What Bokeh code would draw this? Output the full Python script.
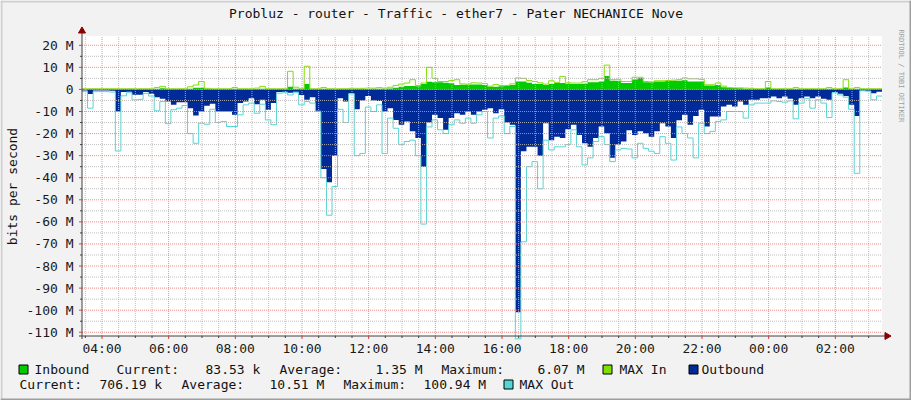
import math
from bokeh.plotting import figure
from bokeh.models import Range1d, Label, BoxAnnotation
from bokeh.core.properties import value
from bokeh.embed import file_html
from bokeh.resources import INLINE

# ---------------- data (Mbit/s, 10-minute samples starting 03:24) ----------------
start_hour = 3.4
step_hours = 1.0 / 6.0

inbound = [
    0.1, 0.1, 0.1, 0.1, 0.1, 0.1, 0.1, 0.1, 0.1, 0.1,
    0.1, 0.1, 0.1, 0.3, 0.5, 0.1, 0.1, 0.1, 0.1, 0.3,
    0.8, 0.8, 0.3, 0.1, 0.1, 0.1, 0.1, 0.3, 0.1, 0.1,
    0.1, 0.2, 0.3, 0.1, 0.1, 0.1, 0.1, 1.2, 0.3, 0.2,
    2.5, 0.1, 0.1, 0.3, 0.1, 0.1, 0.1, 0.1, 0.2, 0.2,
    0.2, 0.2, 0.3, 0.3, 0.3, 0.4, 0.8, 1.2, 1.5, 1.5,
    1.4, 2.4, 3.5, 3.3, 3.3, 3.0, 2.8, 2.0, 2.1, 2.1,
    2.2, 2.2, 2.0, 1.2, 1.2, 1.4, 1.5, 2.0, 3.6, 3.6,
    3.0, 2.5, 2.4, 2.0, 2.4, 2.9, 2.9, 2.6, 2.4, 2.4,
    2.6, 3.3, 3.3, 3.6, 6.07, 3.9, 3.9, 2.9, 2.9, 4.5,
    5.2, 3.3, 3.3, 3.6, 3.6, 3.9, 3.9, 3.9, 4.2, 3.6,
    3.6, 3.6, 1.8, 1.8, 2.0, 1.0, 0.6, 0.6, 0.5, 0.3,
    0.3, 0.2, 0.2, 0.9, 0.2, 0.2, 0.2, 0.2, 0.3, 0.2,
    0.2, 0.2, 0.2, 0.2, 0.3, 0.2, 0.2, 0.9, 0.2, 0.3,
    0.1, 0.1, 0.1, 0.1,
]

max_in = [
    0.3, 0.3, 0.3, 0.3, 0.3, 0.3, 0.3, 0.3, 0.3, 0.3,
    0.3, 0.3, 0.3, 0.9, 1.4, 0.3, 0.3, 0.3, 0.3, 1.2,
    2.0, 3.6, 0.5, 0.3, 0.3, 0.3, 0.3, 0.9, 0.3, 0.3,
    0.3, 0.6, 1.4, 0.3, 0.3, 0.3, 0.3, 8.2, 1.0, 0.5,
    10.5, 0.3, 0.3, 0.9, 0.3, 0.3, 0.3, 0.3, 0.5, 0.5,
    0.5, 0.6, 0.6, 0.8, 0.6, 1.0, 1.8, 2.4, 2.9, 4.4,
    1.8, 2.9, 10.0, 5.0, 3.6, 3.6, 4.0, 4.4, 2.5, 2.4,
    3.0, 2.9, 2.6, 1.5, 2.2, 1.8, 1.8, 2.5, 5.2, 5.0,
    4.0, 3.6, 3.0, 2.4, 3.9, 3.2, 5.9, 3.0, 2.9, 2.9,
    3.5, 4.4, 4.4, 5.0, 11.0, 4.4, 4.6, 3.6, 3.6, 5.5,
    5.5, 3.6, 3.4, 3.9, 3.9, 4.0, 4.2, 4.4, 5.2, 4.8,
    4.8, 4.6, 2.1, 2.1, 2.9, 1.5, 0.8, 0.7, 0.7, 0.6,
    0.5, 0.3, 0.3, 3.6, 0.3, 0.3, 0.3, 0.3, 0.9, 0.3,
    0.3, 0.3, 0.3, 0.3, 0.9, 0.3, 0.3, 4.4, 0.3, 0.9,
    0.3, 0.3, 0.3, 0.3,
]

outbound = [
    0.5, 2.1, 0.5, 0.5, 0.5, 0.6, 10.0, 1.2, 1.0, 2.4,
    2.4, 1.2, 2.0, 3.6, 4.2, 5.5, 7.0, 5.8, 5.8, 8.5,
    11.8, 10.0, 7.4, 6.5, 10.0, 10.0, 10.0, 11.5, 6.2, 5.5,
    4.0, 6.7, 4.7, 9.2, 6.2, 1.2, 1.0, 1.5, 1.0, 2.5,
    4.7, 3.6, 9.7, 36.0, 42.0, 30.0, 4.0, 5.5, 1.7, 9.0,
    5.0, 3.0, 5.0, 5.2, 10.0, 8.5, 13.8, 16.0, 14.5, 19.0,
    22.0, 35.0, 15.0, 11.5, 13.0, 18.3, 13.0, 10.8, 11.5, 10.0,
    11.5, 10.0, 9.2, 8.5, 10.8, 9.0, 15.0, 16.0, 100.94, 28.0,
    26.0, 26.0, 30.0, 15.3, 23.0, 21.4, 22.0, 18.0, 16.0, 20.6,
    24.4, 26.0, 22.0, 16.8, 19.8, 31.0, 25.0, 23.6, 18.5, 20.6,
    19.0, 19.8, 21.4, 19.0, 15.3, 16.8, 22.0, 14.0, 11.5, 16.0,
    12.0, 9.2, 16.8, 12.3, 12.3, 7.7, 7.0, 7.7, 5.5, 7.0,
    4.7, 4.7, 4.0, 4.0, 3.2, 4.0, 3.2, 4.2, 7.0, 4.0,
    3.2, 4.0, 3.2, 4.2, 4.7, 1.2, 2.0, 3.0, 7.0, 12.0,
    0.6, 0.6, 1.7, 1.0,
]

max_out = [
    1.0, 8.5, 1.0, 1.0, 1.0, 1.2, 27.9, 2.9, 1.5, 4.7,
    4.5, 1.8, 3.0, 9.7, 5.5, 15.5, 9.2, 8.5, 7.3, 20.0,
    24.4, 15.3, 15.8, 9.0, 15.0, 14.5, 16.8, 16.8, 11.5, 7.0,
    6.2, 10.8, 6.7, 13.8, 16.0, 1.7, 1.5, 2.5, 1.5, 7.0,
    5.5, 6.2, 10.0, 40.0, 57.0, 44.0, 9.0, 15.0, 2.0, 30.0,
    29.0, 8.0, 10.0, 7.0, 29.0, 13.0, 17.6, 25.0, 23.6, 23.0,
    30.0, 61.0, 17.0, 13.8, 18.3, 20.0, 16.0, 13.8, 15.3, 13.0,
    15.3, 11.5, 10.0, 22.0, 13.0, 12.0, 20.0, 16.8, 113.0, 69.0,
    35.0, 32.7, 45.0, 23.0, 27.4, 26.0, 26.0, 25.0, 18.3, 26.0,
    34.2, 31.0, 23.6, 21.4, 25.0, 32.7, 27.4, 26.7, 27.0, 31.0,
    24.4, 26.7, 28.0, 29.0, 21.4, 24.4, 32.0, 17.0, 20.0, 22.0,
    31.0, 15.3, 20.0, 19.0, 14.5, 13.8, 10.0, 10.0, 10.0, 13.0,
    7.0, 6.2, 6.2, 6.2, 5.2, 5.5, 5.8, 5.2, 13.3, 6.2,
    4.2, 8.5, 4.7, 6.2, 12.7, 1.5, 2.5, 3.5, 9.0, 38.0,
    0.6, 0.8, 4.7, 3.0,
]

y_ticks = [-110, -100, -90, -80, -70, -60, -50, -40, -30, -20, -10, 0, 10, 20]
y_tick_labels = ["-110 M", "-100 M", "-90 M", "-80 M", "-70 M", "-60 M", "-50 M",
                 "-40 M", "-30 M", "-20 M", "-10 M", "0", "10 M", "20 M"]
x_ticks = [4, 6, 8, 10, 12, 14, 16, 18, 20, 22, 24, 26]
x_tick_labels = ["04:00", "06:00", "08:00", "10:00", "12:00", "14:00",
                 "16:00", "18:00", "20:00", "22:00", "00:00", "02:00"]

title_text = "Probluz - router - Traffic - ether7 - Pater NECHANICE Nove"
y_label_text = "bits per second"
side_text = "RRDTOOL / TOBI OETIKER"
legend_row1 = [("Inbound", 34), ("Current:", 116), ("83.53 k", 205), ("Average:", 279),
               ("1.35 M", 375), ("Maximum:", 441), ("6.07 M", 537), ("MAX In", 619),
               ("Outbound", 701)]
legend_row2 = [("Current:", 19), ("706.19 k", 99), ("Average:", 181), ("10.51 M", 269),
               ("Maximum:", 343), ("100.94 M", 423), ("MAX Out", 519)]

C_IN = "#00CC00"
C_MAXIN = "#7FE000"
C_OUT = "#002A97"
C_MAXOUT = "#55D6D3"
FONT = "DejaVu Sans Mono"

# ---------------- geometry: the frame covers the whole canvas ----------------
W, H = 911, 400
PX_L, PX_R, PX_T, PX_B = 81, 881, 35, 335      # plot area in canvas pixels
X0, X1 = 3.4, 27.4                               # hours shown
Y0, Y1 = -111.7, 24.2                            # Mbit/s shown


def hx(px):
    return X0 + (px - PX_L) * (X1 - X0) / (PX_R - PX_L)


def vy(px):
    return Y1 - (px - PX_T) * (Y1 - Y0) / (PX_B - PX_T)


p = figure(width=W, height=H, output_backend="svg", toolbar_location=None, title=None,
           x_range=Range1d(hx(-0.5), hx(W - 0.5)), y_range=Range1d(vy(H - 0.5), vy(-0.5)),
           x_axis_location=None, y_axis_location=None, min_border=0,
           background_fill_color="#F2F2F2", border_fill_color="#F2F2F2")
p.outline_line_color = None
p.grid.visible = False

# plot canvas (white)
p.add_layout(BoxAnnotation(left=X0, right=X1, bottom=Y0, top=Y1, fill_color="white",
                           fill_alpha=1.0, line_color=None, level="underlay"))

# ---------------- data marks ----------------
n = len(inbound)
x_edges = [start_hour + i * step_hours for i in range(n + 1)]


def ext(vals, sign=1.0):
    v = [sign * a for a in vals]
    return v + [v[-1]]


zeros = [0.0] * (n + 1)
p.varea_step(x=x_edges, y1=zeros, y2=ext(inbound), step_mode="after", fill_color=C_IN)
p.step(x=x_edges, y=ext(max_in), mode="after", line_color=C_MAXIN, line_width=1)
p.varea_step(x=x_edges, y1=zeros, y2=ext(outbound, -1.0), step_mode="after", fill_color=C_OUT)
p.step(x=x_edges, y=ext(max_out, -1.0), mode="after", line_color=C_MAXOUT, line_width=1)

# ---------------- grid (drawn over the data, as rrdtool does) ----------------
x_minor = [t for t in [3.5 + 0.5 * k for k in range(48)] if t not in x_ticks and t < X1]
y_minor = [t for t in [-105 + 10 * k for k in range(13)]]

p.segment(x0=x_minor, x1=x_minor, y0=[Y0] * len(x_minor), y1=[Y1] * len(x_minor),
          line_color="#B8B8B8", line_alpha=0.9, line_dash="1 1", line_width=1)
p.segment(x0=[X0] * len(y_minor), x1=[X1] * len(y_minor), y0=y_minor, y1=y_minor,
          line_color="#B8B8B8", line_alpha=0.9, line_dash="1 1", line_width=1)
p.segment(x0=x_ticks, x1=x_ticks, y0=[Y0] * len(x_ticks), y1=[Y1] * len(x_ticks),
          line_color="#F08080", line_alpha=0.9, line_dash="1 1", line_width=1)
p.segment(x0=[X0] * len(y_ticks), x1=[X1] * len(y_ticks), y0=y_ticks, y1=y_ticks,
          line_color="#F08080", line_alpha=0.9, line_dash="1 1", line_width=1)

# ---------------- axes ----------------
AX = "#404040"
p.segment(x0=[X0], x1=[X0], y0=[vy(PX_B + 3)], y1=[vy(PX_T - 3)], line_color=AX, line_width=1)
p.segment(x0=[hx(PX_L - 3)], x1=[hx(PX_R + 3)], y0=[Y0], y1=[Y0], line_color=AX, line_width=1)
# ticks
p.segment(x0=[hx(PX_L - 3)] * len(y_ticks), x1=[X0] * len(y_ticks), y0=y_ticks, y1=y_ticks,
          line_color="#D04040", line_width=1)
p.segment(x0=[hx(PX_L - 2)] * len(y_minor), x1=[X0] * len(y_minor), y0=y_minor, y1=y_minor,
          line_color=AX, line_width=1)
p.segment(x0=x_ticks, x1=x_ticks, y0=[Y0] * len(x_ticks), y1=[vy(PX_B + 3)] * len(x_ticks),
          line_color="#D04040", line_width=1)
p.segment(x0=x_minor, x1=x_minor, y0=[Y0] * len(x_minor), y1=[vy(PX_B + 2)] * len(x_minor),
          line_color=AX, line_width=1)
# arrow heads
p.scatter(x=[X0], y=[vy(PX_T - 5)], marker="triangle", size=7, fill_color="#8B0000",
          line_color="#8B0000")
p.scatter(x=[hx(PX_R + 5)], y=[Y0], marker="triangle", angle=-math.pi / 2, size=7,
          fill_color="#8B0000", line_color="#8B0000")

# tick labels
p.text(x=[hx(PX_L - 8.5)] * len(y_ticks), y=y_ticks, text=y_tick_labels,
       text_align="right", text_baseline="middle", text_font=value(FONT),
       text_font_size=value("13px"), text_color="#1A1A1A")
p.text(x=x_ticks, y=[vy(PX_B + 12)] * len(x_ticks), text=x_tick_labels,
       text_align="center", text_baseline="middle", text_font=value(FONT),
       text_font_size=value("13px"), text_color="#1A1A1A")


# ---------------- texts in canvas pixels ----------------
def lab(text, xr, yr, size="13px", align="left", baseline="middle", color="#111111", angle=0.0):
    p.add_layout(Label(x=xr, y=H - yr, x_units="screen", y_units="screen", text=text,
                       text_font=FONT, text_font_size=size, text_align=align,
                       text_baseline=baseline, text_color=color, angle=angle))


def box(l, t, r, b, color, line=None):
    p.add_layout(BoxAnnotation(left=l, right=r, top=H - t, bottom=H - b,
                               left_units="screen", right_units="screen",
                               top_units="screen", bottom_units="screen",
                               fill_color=color, fill_alpha=1.0,
                               line_color=line, line_alpha=1.0, line_width=1,
                               level="overlay"))


lab(title_text, 455.5, 13, align="center")
lab(y_label_text, 11.5, 186, align="center", angle=math.pi / 2)
lab(side_text, 900, 29, size="7px", color="#A0A0A0", angle=-math.pi / 2)

for t, xr in legend_row1:
    lab(t, xr, 369)
for t, xr in legend_row2:
    lab(t, xr, 384)
box(18.5, 364.5, 27.5, 373.5, C_IN, "#000000")
box(602.5, 364.5, 611.5, 373.5, C_MAXIN, "#000000")
box(688.5, 364.5, 697.5, 373.5, C_OUT, "#000000")
box(503.5, 379.5, 512.5, 388.5, C_MAXOUT, "#000000")

# rrdtool-like frame shading
box(0, 0, W, 2, "#CFCFCF")
box(0, 0, 2, H, "#CFCFCF")
box(W - 2, 0, W, H, "#9E9E9E")
box(0, H - 2, W, H, "#9E9E9E")

open("out.html", "w").write(file_html(p, INLINE))
